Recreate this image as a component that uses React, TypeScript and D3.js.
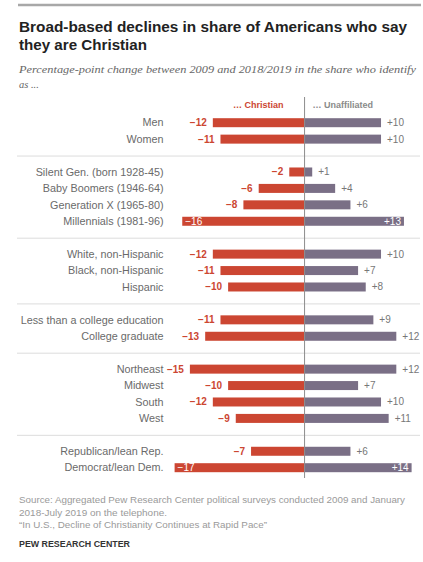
import React from "react";
import * as d3 from "d3";

const labels = [
  "Men",
  "Women",
  "Silent Gen. (born 1928-45)",
  "Baby Boomers (1946-64)",
  "Generation X (1965-80)",
  "Millennials (1981-96)",
  "White, non-Hispanic",
  "Black, non-Hispanic",
  "Hispanic",
  "Less than a college education",
  "College graduate",
  "Northeast",
  "Midwest",
  "South",
  "West",
  "Republican/lean Rep.",
  "Democrat/lean Dem.",
];
const christian = [-12, -11, -2, -6, -8, -16, -12, -11, -10, -11, -13, -15, -10, -12, -9, -7, -17];
const unaffiliated = [10, 10, 1, 4, 6, 13, 10, 7, 8, 9, 12, 12, 7, 10, 11, 6, 14];
const groups = [0, 0, 1, 1, 1, 1, 2, 2, 2, 3, 3, 4, 4, 4, 4, 5, 5];
const seriesNames = ["… Christian", "… Unaffiliated"];
const insideThreshold = 13;

const RED = "#cc4632";
const PURPLE = "#7a6f86";
const FONT = "'Liberation Sans', Arial, sans-serif";

export default function App() {
  const W = 423;
  const H = 562;
  const slots = labels.map((_, i) => i + groups[i]);
  const nSlots = slots[slots.length - 1] + 1;
  const y = d3.scaleLinear().domain([0, nSlots - 1]).range([122.7, 467.7]);
  const x = d3.scaleLinear().domain([-17, 14]).range([174.6, 411.6]);
  const cx = x(0);
  const barH = 9;

  const sepSlots: number[] = [];
  for (let i = 1; i < labels.length; i++) {
    if (groups[i] !== groups[i - 1]) sepSlots.push(slots[i] - 1);
  }

  const fmt = (v: number) => (v < 0 ? "\u2212" + Math.abs(v) : "+" + v);

  return (
    <svg
      width={W}
      height={H}
      viewBox={`0 0 ${W} ${H}`}
      style={{ position: "absolute", left: 0, top: 0, background: "#fff" }}
      fontFamily={FONT}
    >
      <rect width={W} height={H} fill="#fff" />
      <line x1={18} x2={421} y1={5} y2={5} stroke="#a8a8a8" strokeWidth={2.5} />
      <text x={19} y={31.5} fontSize={15.5} fontWeight="bold" fill="#222" textLength={388} lengthAdjust="spacingAndGlyphs">
        Broad-based declines in share of Americans who say
      </text>
      <text x={19} y={50} fontSize={15.5} fontWeight="bold" fill="#222" textLength={128} lengthAdjust="spacingAndGlyphs">
        they are Christian
      </text>
      <text x={19} y={73} fontSize={10.5} fontStyle="italic" fill="#666" fontFamily="'Liberation Serif', Georgia, serif" textLength={397} lengthAdjust="spacingAndGlyphs">
        Percentage-point change between 2009 and 2018/2019 in the share who identify
      </text>
      <text x={19} y={88} fontSize={10.5} fontStyle="italic" fill="#666" fontFamily="'Liberation Serif', Georgia, serif">
        as ...
      </text>

      <text x={cx - 21} y={107.5} fontSize={9} fontWeight="bold" fill={RED} textAnchor="end">
        {seriesNames[0]}
      </text>
      <text x={cx + 8} y={107.5} fontSize={9} fontWeight="bold" fill="#8a8a8a">
        {seriesNames[1]}
      </text>

      {sepSlots.map((s) => (
        <line key={s} x1={17} x2={420} y1={y(s) + 0.5} y2={y(s) + 0.5} stroke="#dcdcdc" strokeWidth={1} />
      ))}

      {labels.map((lab, i) => {
        const yc = y(slots[i]);
        const c = christian[i];
        const u = unaffiliated[i];
        const cInside = Math.abs(c) >= insideThreshold + 3;
        const uInside = u >= insideThreshold;
        return (
          <g key={lab}>
            <text x={163.5} y={yc + 3.7} fontSize={10.8} fill="#6a6a6a" textAnchor="end">
              {lab}
            </text>
            <rect x={x(c)} y={yc - barH / 2} width={cx - x(c)} height={barH} fill={RED} />
            <rect x={cx} y={yc - barH / 2} width={x(u) - cx} height={barH} fill={PURPLE} />
            {cInside ? (
              <text x={x(c) + 3} y={yc + 3.5} fontSize={10} fill="#fff">
                {fmt(c)}
              </text>
            ) : (
              <text x={x(c) - 6} y={yc + 3.5} fontSize={10} fill={RED} fontWeight="bold" textAnchor="end">
                {fmt(c)}
              </text>
            )}
            {uInside ? (
              <text x={x(u) - 3} y={yc + 3.5} fontSize={10} fill="#fff" textAnchor="end">
                {fmt(u)}
              </text>
            ) : (
              <text x={x(u) + 6} y={yc + 3.5} fontSize={10} fill="#777">
                {fmt(u)}
              </text>
            )}
          </g>
        );
      })}

      <line x1={cx} x2={cx} y1={97} y2={478} stroke="#8c8c8c" strokeWidth={1} />

      <text x={19} y={503} fontSize={9} fill="#9a9a9a" textLength={386} lengthAdjust="spacingAndGlyphs">
        Source: Aggregated Pew Research Center political surveys conducted 2009 and January
      </text>
      <text x={19} y={515.5} fontSize={9} fill="#9a9a9a" textLength={148} lengthAdjust="spacingAndGlyphs">
        2018-July 2019 on the telephone.
      </text>
      <text x={19} y={528} fontSize={9} fill="#9a9a9a" textLength={248} lengthAdjust="spacingAndGlyphs">
        “In U.S., Decline of Christianity Continues at Rapid Pace”
      </text>
      <text x={19} y={546.5} fontSize={8.2} fontWeight="bold" fill="#333" textLength={111} lengthAdjust="spacingAndGlyphs">
        PEW RESEARCH CENTER
      </text>
    </svg>
  );
}
